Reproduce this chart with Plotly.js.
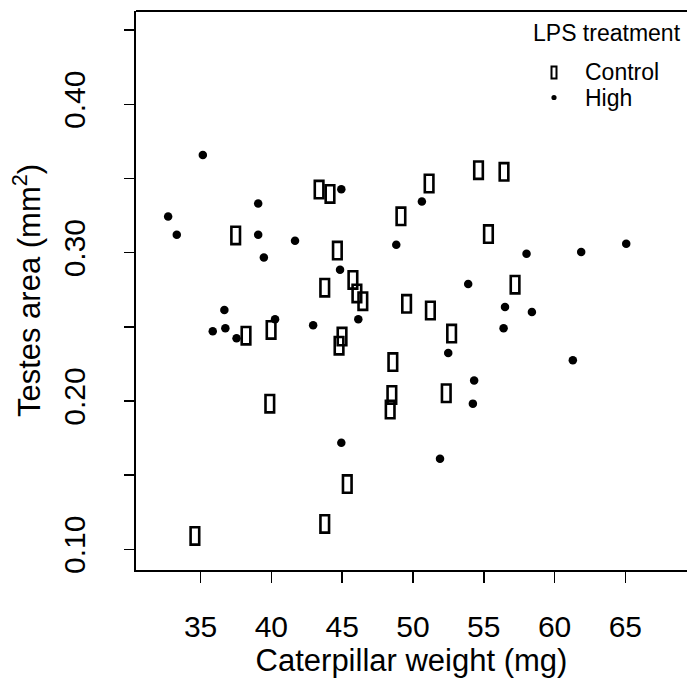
<!DOCTYPE html>
<html>
<head>
<meta charset="utf-8">
<script src="https://cdn.plot.ly/plotly-3.0.1.min.js"></script>
<style>html,body{margin:0;padding:0;background:#fff;}#chart{width:687px;height:685px;}</style>
</head>
<body>
<div id="chart"></div>
<script>
// Control group (rectangle glyphs)
const controlWeight = [43.37, 44.14, 49.15, 37.48, 44.66, 45.76, 43.77, 46.04, 46.46, 49.55,
  51.14, 54.63, 56.43, 55.33, 57.21, 51.23,
  38.21, 39.98, 44.99, 44.78, 39.89, 48.58, 48.51, 48.39, 45.36, 43.77, 34.60,
  52.73, 52.35];
const controlArea = [0.3425, 0.3396, 0.3245, 0.3116, 0.3014, 0.2816, 0.2764, 0.2725, 0.2673, 0.2655,
  0.3466, 0.3556, 0.3545, 0.3125, 0.2784, 0.2610,
  0.2440, 0.2479, 0.2434, 0.2373, 0.1982, 0.2262, 0.2041, 0.1942, 0.1440, 0.1171, 0.1090,
  0.2454, 0.2052];
// High LPS group (filled dots)
const highWeight = [35.16, 32.71, 33.32, 39.07, 39.07, 39.47, 41.67, 44.94, 44.85, 48.82, 36.68,
  50.63, 58.02, 61.88, 65.06, 53.90, 56.50, 58.40,
  35.86, 36.75, 37.54, 40.26, 42.95, 46.14, 44.94,
  56.40, 52.49, 61.29, 54.32, 54.23, 51.91];
const highArea = [0.3658, 0.3243, 0.3121, 0.3331, 0.3121, 0.2967, 0.3080, 0.3427, 0.2885, 0.3053, 0.2614,
  0.3344, 0.2992, 0.3005, 0.3060, 0.2789, 0.2633, 0.2599,
  0.2470, 0.2490, 0.2423, 0.2551, 0.2511, 0.2551, 0.1718,
  0.2490, 0.2323, 0.2274, 0.2138, 0.1982, 0.1610];

const xTickVals = [35, 40, 45, 50, 55, 60, 65];
const xTickText = ["35", "40", "45", "50", "55", "60", "65"];
const yTickVals = [0.10, 0.20, 0.30, 0.40];
const yTickText = ["0.10", "0.20", "0.30", "0.40"];
const yMinorTickVals = [0.15, 0.25, 0.35, 0.45];

const groupNames = ["Control", "High"];
const legendTitle = "LPS treatment";

const FONT = "Liberation Sans, Arial, Helvetica, sans-serif";
const W = 687, H = 685;
const mL = 136, mR = 0, mT = 11, mB = 115;
const pw = W - mL - mR, ph = H - mT - mB;
const px = v => (v - mL) / pw;       // pixel -> paper x
const py = v => (H - mB - v) / ph;   // pixel -> paper y

const traces = [
  {
    type: "scatter", mode: "markers", name: groupNames[1],
    x: highWeight, y: highArea,
    marker: {symbol: "circle", size: 8.5, color: "#000"},
    showlegend: false, hoverinfo: "x+y"
  },
  {
    type: "scatter", mode: "markers", name: groupNames[0],
    x: controlWeight, y: controlArea,
    marker: {symbol: "square", size: 9, color: "rgba(0,0,0,0)"},
    showlegend: false, hoverinfo: "x+y"
  }
];

const shapes = controlWeight.map((w, i) => ({
  type: "rect", xref: "x", yref: "y",
  xsizemode: "pixel", ysizemode: "pixel",
  xanchor: w, yanchor: controlArea[i],
  x0: -4.3, x1: 4.3, y0: -8.7, y1: 8.7,
  line: {color: "#000", width: 2.6}, fillcolor: "rgba(0,0,0,0)"
}));
// top frame line (box extends past right edge)
shapes.push({type: "line", xref: "paper", yref: "paper", x0: 0, x1: 1.05, y0: 1, y1: 1,
  line: {color: "#000", width: 2}});
// legend symbols
shapes.push({type: "rect", xref: "paper", yref: "paper", xsizemode: "pixel", ysizemode: "pixel",
  xanchor: px(554), yanchor: py(72.5), x0: -2.5, x1: 2.5, y0: -6, y1: 6,
  line: {color: "#000", width: 2}, fillcolor: "rgba(0,0,0,0)"});
shapes.push({type: "circle", xref: "paper", yref: "paper", xsizemode: "pixel", ysizemode: "pixel",
  xanchor: px(554), yanchor: py(97.5), x0: -2.6, x1: 2.6, y0: -2.6, y1: 2.6,
  line: {color: "#000", width: 0}, fillcolor: "#000"});

const annotations = [
  {text: legendTitle, xref: "paper", yref: "paper", x: px(607), y: py(33), xanchor: "center", yanchor: "middle",
   showarrow: false, font: {family: FONT, size: 23, color: "#000"}},
  {text: groupNames[0], xref: "paper", yref: "paper", x: px(583), y: py(72), xanchor: "left", yanchor: "middle",
   showarrow: false, font: {family: FONT, size: 23, color: "#000"}},
  {text: groupNames[1], xref: "paper", yref: "paper", x: px(583), y: py(98), xanchor: "left", yanchor: "middle",
   showarrow: false, font: {family: FONT, size: 23, color: "#000"}}
];

const layout = {
  width: W, height: H,
  margin: {l: mL, r: mR, t: mT, b: mB, pad: 0},
  paper_bgcolor: "#fff", plot_bgcolor: "#fff",
  showlegend: false,
  font: {family: FONT, color: "#000"},
  xaxis: {
    range: [30.44, 30.44 + pw / 14.16],
    showgrid: false, zeroline: false,
    showline: true, linecolor: "#000", linewidth: 2,
    ticks: "outside", ticklen: 11, tickwidth: 1.5, tickcolor: "#000",
    tickmode: "array", tickvals: xTickVals, ticktext: xTickText,
    tickfont: {family: FONT, size: 30, color: "#000"},
    ticklabelstandoff: 18,
    title: {text: "Caterpillar weight (mg)", font: {family: FONT, size: 31, color: "#000"}, standoff: 6}
  },
  yaxis: {
    range: [0.08604, 0.08604 + ph / 1483.3],
    showgrid: false, zeroline: false,
    showline: true, linecolor: "#000", linewidth: 2,
    ticks: "outside", ticklen: 10, tickwidth: 1.5, tickcolor: "#000",
    tickmode: "array", tickvals: yTickVals, ticktext: yTickText,
    minor: {tickmode: "array", tickvals: yMinorTickVals, ticks: "outside", ticklen: 10, tickwidth: 1.5,
            tickcolor: "#000", showgrid: false},
    tickangle: -90,
    tickfont: {family: FONT, size: 30, color: "#000"},
    ticklabelstandoff: 27,
    title: {text: "Testes area (mm<sup>2</sup>)", font: {family: FONT, size: 31, color: "#000"}, standoff: 8}
  },
  shapes: shapes,
  annotations: annotations
};

Plotly.newPlot("chart", traces, layout, {displayModeBar: false, staticPlot: true});
</script>
</body>
</html>
